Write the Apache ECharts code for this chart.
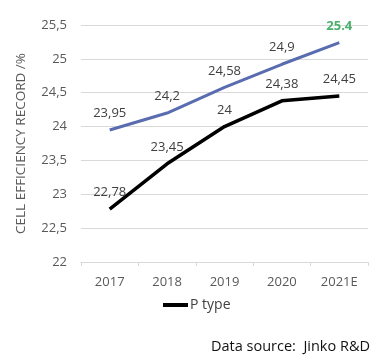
<!DOCTYPE html>
<html><head><meta charset="utf-8">
<script src="https://cdn.jsdelivr.net/npm/echarts@6/dist/echarts.min.js"></script>
<style>html,body{margin:0;padding:0;background:#fff}#c{width:380px;height:355px}</style>
</head><body><div id="c"></div>
<script>
const categories = ['2017','2018','2019','2020','2021E'];
// N type line as drawn (last point plotted near 25.25, labelled 25.4)
const nTypeValues = [23.95, 24.2, 24.58, 24.92, 25.24];
const nTypeLabels = ['23,95', '24,2', '24,58', '24,9', '25.4'];
const pTypeValues = [22.78, 23.45, 24, 24.38, 24.45];
const pTypeLabels = ['22,78', '23,45', '24', '24,38', '24,45'];
const yTicks = [22, 22.5, 23, 23.5, 24, 24.5, 25, 25.5];
const font = '"Open Sans", "Noto Sans", sans-serif';
const fmt = v => String(v).replace('.', ',');
const chart = echarts.init(document.getElementById('c'));
chart.setOption({
  animation: false,
  textStyle: {fontFamily: font},
  grid: {left: 81, right: 12, top: 25, bottom: 93},
  legend: {
    data: ['P type'], bottom: 38, left: 158, itemWidth: 25, itemHeight: 4,
    icon: 'rect', itemGap: 0,
    textStyle: {fontFamily: font, fontSize: 14, color: '#404040', padding: [0,0,0,-3]}
  },
  xAxis: {
    type: 'category', data: categories, boundaryGap: true,
    axisLine: {lineStyle: {color: '#d9d9d9'}},
    axisTick: {show: true, length: 4, lineStyle: {color: '#d9d9d9'}},
    axisLabel: {color: '#595959', fontSize: 13, margin: 14, fontFamily: font}
  },
  yAxis: {
    type: 'value', min: yTicks[0], max: yTicks[yTicks.length-1], interval: 0.5,
    name: 'CELL EFFICIENCY RECORD /%', nameLocation: 'middle', nameGap: 53,
    nameTextStyle: {color: '#595959', fontSize: 13.5, fontFamily: font},
    axisLine: {show: false}, axisTick: {show: false},
    splitLine: {lineStyle: {color: '#d9d9d9'}},
    axisLabel: {color: '#595959', fontSize: 13, margin: 14, fontFamily: font, formatter: fmt}
  },
  series: [
    {
      name: 'N type', type: 'line', data: nTypeValues, symbol: 'circle', symbolSize: 0,
      lineStyle: {color: '#5a6cb0', width: 3}, itemStyle: {color: '#5a6cb0'},
      label: {
        show: true, position: 'top', distance: 10, fontSize: 13, color: '#404040', fontFamily: font,
        formatter: p => p.dataIndex === nTypeLabels.length - 1 ? '{g|' + nTypeLabels[p.dataIndex] + '}' : nTypeLabels[p.dataIndex],
        rich: {g: {color: '#4caf6e', fontWeight: 'bold', fontSize: 13, fontFamily: font}}
      }
    },
    {
      name: 'P type', type: 'line', data: pTypeValues, symbol: 'circle', symbolSize: 0,
      lineStyle: {color: '#000', width: 3.5}, itemStyle: {color: '#000'},
      label: {show: true, position: 'top', distance: 10, fontSize: 13, color: '#404040', fontFamily: font,
        formatter: p => pTypeLabels[p.dataIndex]}
    }
  ],
  graphic: [{
    type: 'text', right: 10, bottom: 1,
    style: {text: 'Data source:  Jinko R&D', fill: '#111', font: '14.5px ' + font}
  }]
});
</script></body></html>
